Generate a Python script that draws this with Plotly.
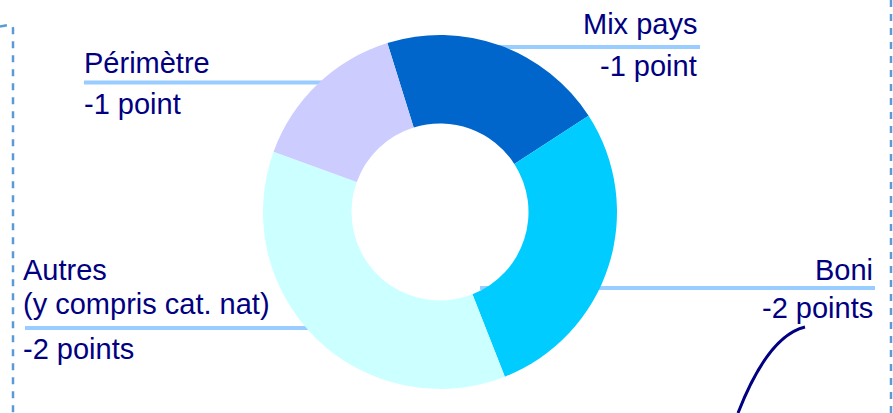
import plotly.graph_objects as go

# ---- data ----
labels = ["Mix pays", "Boni", "Autres", "Périmètre"]
values = [1.24, 1.69, 2.19, 0.88]
impact = ["-1 point", "-2 points", "-2 points", "-1 point"]
colors = ["#0066CC", "#00CCFF", "#CCFFFF", "#CCCCFF"]
autres_sub = "(y compris cat. nat)"

W, H = 893, 413
FONT = "Arial, Liberation Sans, sans-serif"
NAVY = "#000080"
LEAD = "#99CCFF"
FS = 29

fig = go.Figure()
# invisible cartesian trace so shapes can use pixel-like coordinates
fig.add_trace(go.Scatter(x=[None], y=[None], showlegend=False, hoverinfo="skip"))

fig.add_trace(go.Pie(
    labels=labels, values=values, sort=False, direction="clockwise",
    rotation=-17.3, hole=0.5, textinfo="none", hoverinfo="skip",
    marker=dict(colors=colors, line=dict(width=0)),
    domain=dict(x=[263 / W, 617 / W], y=[(H - 389) / H, (H - 35) / H]),
    showlegend=False,
))

shapes = []
# leader lines (below the donut)
for (x0, x1, y) in [(460, 700, 47), (480, 875, 288), (25, 330, 328), (84, 340, 82.5)]:
    shapes.append(dict(type="line", xref="x", yref="y", x0=x0, x1=x1, y0=y, y1=y,
                       line=dict(color=LEAD, width=4), layer="below"))
# dashed frame lines
shapes.append(dict(type="path", xref="x", yref="y",
                   path="M 0,26.5 L 8,25 Q 13,24 13,29 L 13,413",
                   line=dict(color="#5B9BD5", width=2.5, dash="7px,7px"), layer="above"))
shapes.append(dict(type="line", xref="x", yref="y", x0=891, x1=891, y0=0, y1=413,
                   line=dict(color="#5B9BD5", width=2.5, dash="7px,7px"), layer="above"))
# navy curve
shapes.append(dict(type="path", xref="x", yref="y",
                   path="M 805,327 Q 768,336 738,413",
                   line=dict(color=NAVY, width=3), layer="above"))

annotations = []
def ann(text, x, y, anchor):
    annotations.append(dict(text=text, x=x, y=y, xref="x", yref="y", xanchor=anchor,
                            yanchor="middle", showarrow=False,
                            font=dict(family=FONT, size=FS, color=NAVY)))

# Mix pays
ann(labels[0], 699, 24, "right")
ann(impact[0], 699, 66, "right")
# Boni
ann(labels[1], 875, 270, "right")
ann(impact[1], 875, 308, "right")
# Autres
ann(labels[2], 21, 270, "left")
ann(autres_sub, 21, 304, "left")
ann(impact[2], 21, 349, "left")
# Périmètre
ann(labels[3], 82, 63, "left")
ann(impact[3], 82, 104, "left")

fig.update_layout(
    width=W, height=H, autosize=False,
    margin=dict(l=0, r=0, t=0, b=0),
    paper_bgcolor="white", plot_bgcolor="rgba(0,0,0,0)",
    xaxis=dict(range=[0, W], visible=False, fixedrange=True),
    yaxis=dict(range=[H, 0], visible=False, fixedrange=True),
    shapes=shapes, annotations=annotations, showlegend=False,
)

fig.write_html("out.html", config={"displayModeBar": False, "staticPlot": True},
               post_script="document.body.style.margin='0';document.body.style.overflow='hidden';")
